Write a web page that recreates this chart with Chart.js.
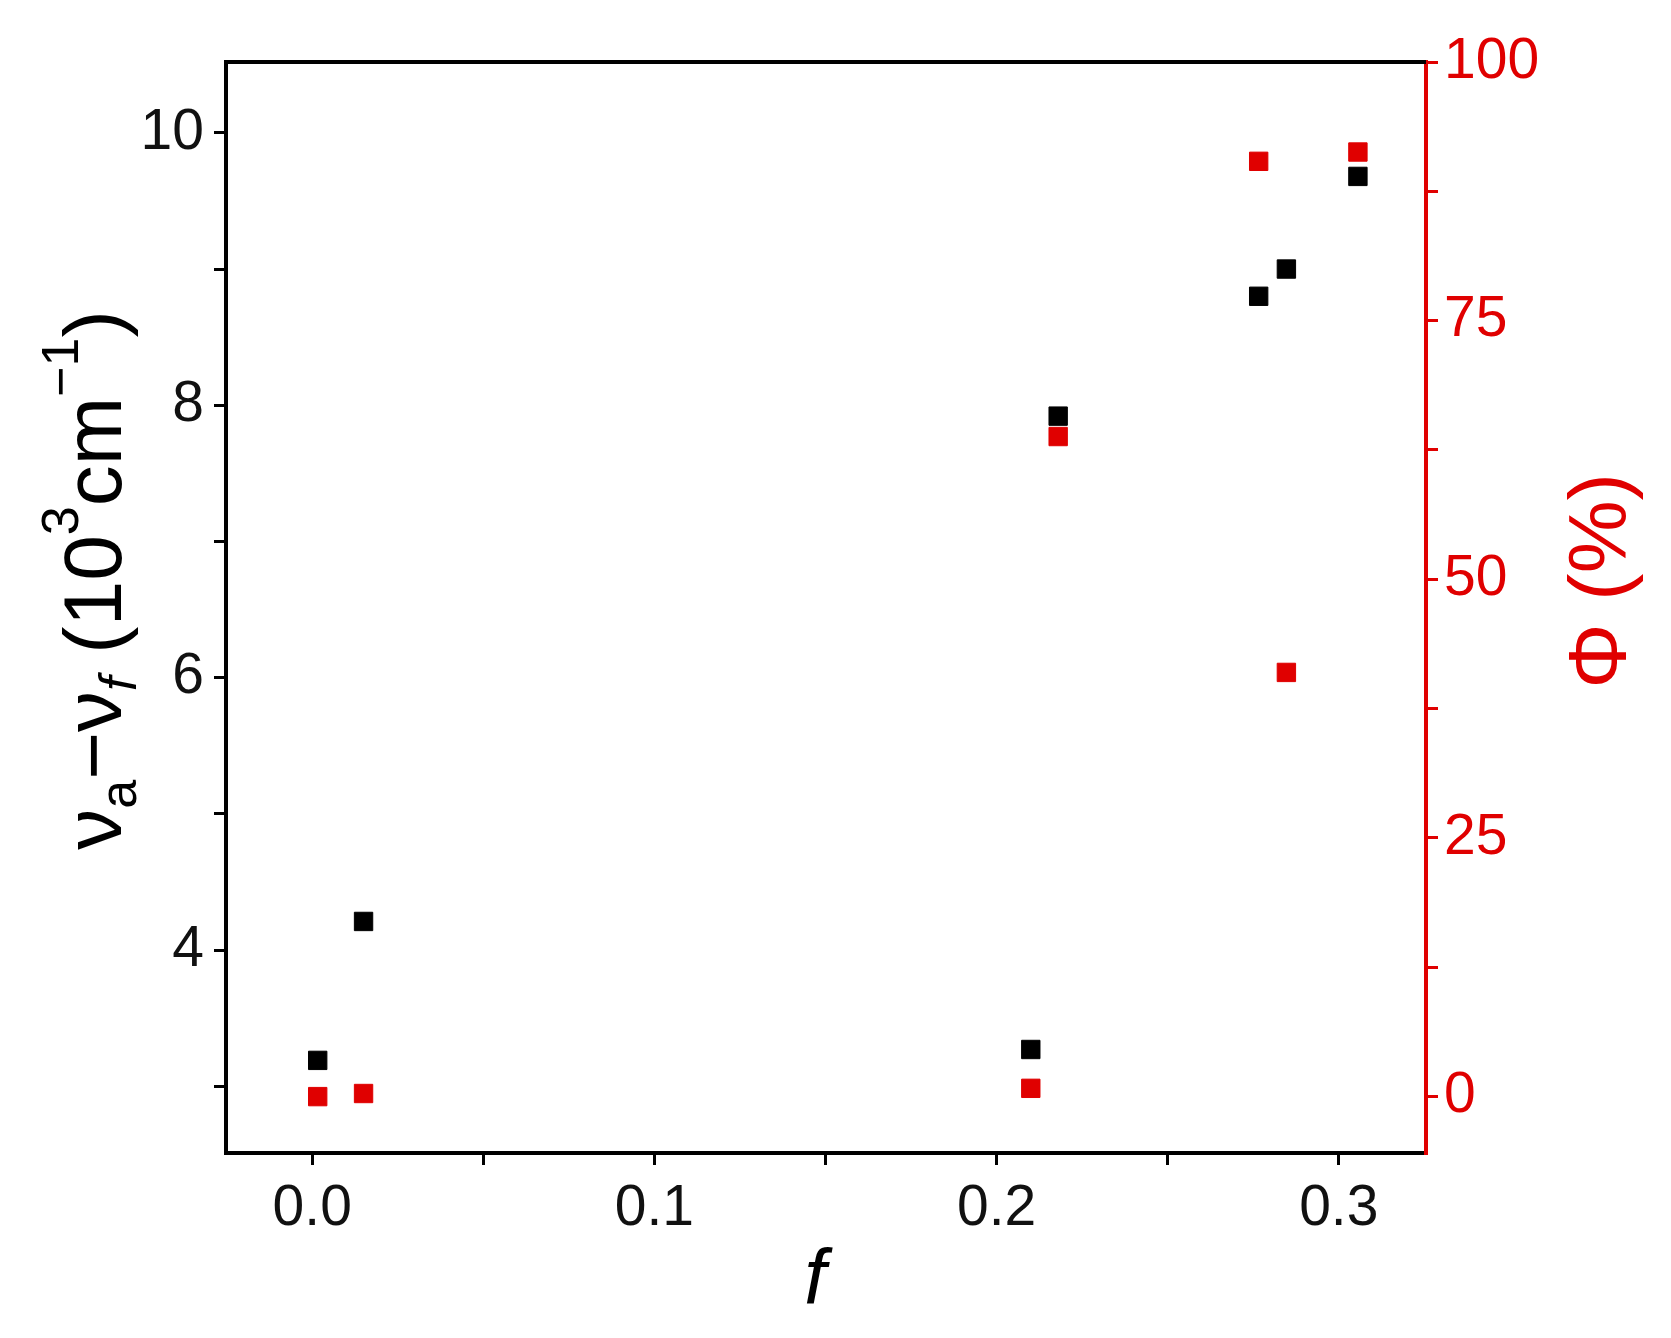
<!DOCTYPE html>
<html><head><meta charset="utf-8">
<script src="https://cdn.jsdelivr.net/npm/chart.js@4/dist/chart.umd.min.js"></script>
<style>html,body{margin:0;background:#fff}#wrap{width:1671px;height:1338px}</style>
</head><body><div id="wrap"><canvas id="c"></canvas></div>
<script>
// data
const fBlack = [0.0016, 0.015, 0.21, 0.218, 0.2766, 0.2847, 0.3056];
const nuDiff = [3.19, 4.21, 3.27, 7.92, 8.80, 9.00, 9.68];
const fRed = [0.0016, 0.015, 0.21, 0.218, 0.2766, 0.2847, 0.3056];
const phi = [0.0, 0.3, 0.8, 63.8, 90.4, 41.0, 91.3];

const tickFont = {family: 'Liberation Sans, Arial', size: 57};

function pts(xs, ys) { return xs.map((x, i) => ({x: x, y: ys[i]})) }

const decor = {
  id: 'decor',
  afterDraw(chart) {
    const ctx = chart.ctx, a = chart.chartArea;
    ctx.save();
    ctx.strokeStyle = '#000'; ctx.lineWidth = 4;
    ctx.beginPath(); ctx.moveTo(a.left - 2, a.top); ctx.lineTo(a.right, a.top); ctx.stroke();

    // left title with sub/superscripts
    const big = '82px Liberation Sans', small = '52px Liberation Sans';
    const parts = [
      ['ν', big, 0], ['a', small, 24], ['−ν', big, 0], ['f', 'italic ' + small, 24],
      [' (10', big, 0], ['3', small, -34], ['cm', big, 0], ['−1', small, -34], [')', big, 0]
    ];
    let total = 0;
    parts.forEach(p => { ctx.font = p[1]; total += ctx.measureText(p[0]).width });
    ctx.translate(98, 580); ctx.rotate(-Math.PI / 2);
    ctx.fillStyle = '#000'; ctx.textBaseline = 'middle';
    let x = -total / 2;
    parts.forEach(p => { ctx.font = p[1]; ctx.fillText(p[0], x, p[2]); x += ctx.measureText(p[0]).width });
    ctx.restore();

    ctx.save();
    ctx.translate(1603, 581); ctx.rotate(-Math.PI / 2);
    ctx.font = '82px Liberation Sans'; ctx.fillStyle = '#e00000';
    ctx.textAlign = 'center'; ctx.textBaseline = 'middle';
    ctx.fillText('Φ (%)', 0, 0);
    ctx.restore();

    ctx.save();
    ctx.font = 'italic 78px Liberation Sans'; ctx.fillStyle = '#000';
    ctx.textAlign = 'center'; ctx.textBaseline = 'middle';
    ctx.fillText('f', 815, 1282);
    ctx.restore();
  }
};

new Chart(document.getElementById('c'), {
  type: 'scatter',
  data: {datasets: [
    {data: pts(fBlack, nuDiff), yAxisID: 'y', backgroundColor: '#000', borderColor: '#000', pointStyle: 'rect', pointRadius: 13},
    {data: pts(fRed, phi), yAxisID: 'y2', backgroundColor: '#e00000', borderColor: '#e00000', pointStyle: 'rect', pointRadius: 13}
  ]},
  options: {
    responsive: true, maintainAspectRatio: false, animation: false,
    layout: {padding: {top: 62, left: 0, right: 0, bottom: 0}},
    plugins: {legend: {display: false}, tooltip: {enabled: false}},
    scales: {
      x: {
        type: 'linear', min: -0.0252, max: 0.3255,
        afterBuildTicks: s => { s.ticks = [0, 0.05, 0.1, 0.15, 0.2, 0.25, 0.3].map(v => ({value: v})) },
        afterFit: s => { s.height = 185 },
        border: {color: '#000', width: 4},
        grid: {drawOnChartArea: false, tickLength: 12, color: '#000', lineWidth: 3},
        ticks: {font: tickFont, color: '#111', padding: 10,
          callback: v => (Math.round(v * 100) % 10 === 0) ? v.toFixed(1) : ''}
      },
      y: {
        position: 'left', min: 2.51, max: 10.52,
        afterBuildTicks: s => { s.ticks = [3, 4, 5, 6, 7, 8, 9, 10].map(v => ({value: v})) },
        afterFit: s => { s.width = 226 },
        border: {color: '#000', width: 4},
        grid: {drawOnChartArea: false, tickLength: 12, color: '#000', lineWidth: 3},
        ticks: {font: tickFont, color: '#111', padding: 10,
          callback: v => v % 2 === 0 ? v : ''}
      },
      y2: {
        position: 'right', min: -5.45, max: 100,
        afterBuildTicks: s => { s.ticks = [0, 12.5, 25, 37.5, 50, 62.5, 75, 87.5, 100].map(v => ({value: v})) },
        afterFit: s => { s.width = 245 },
        border: {color: '#e00000', width: 4},
        grid: {drawOnChartArea: false, tickLength: 12, color: '#e00000', lineWidth: 3},
        ticks: {font: tickFont, color: '#e00000', padding: 6,
          callback: v => v % 25 === 0 ? v : ''}
      }
    }
  },
  plugins: [decor]
});
</script></body></html>
